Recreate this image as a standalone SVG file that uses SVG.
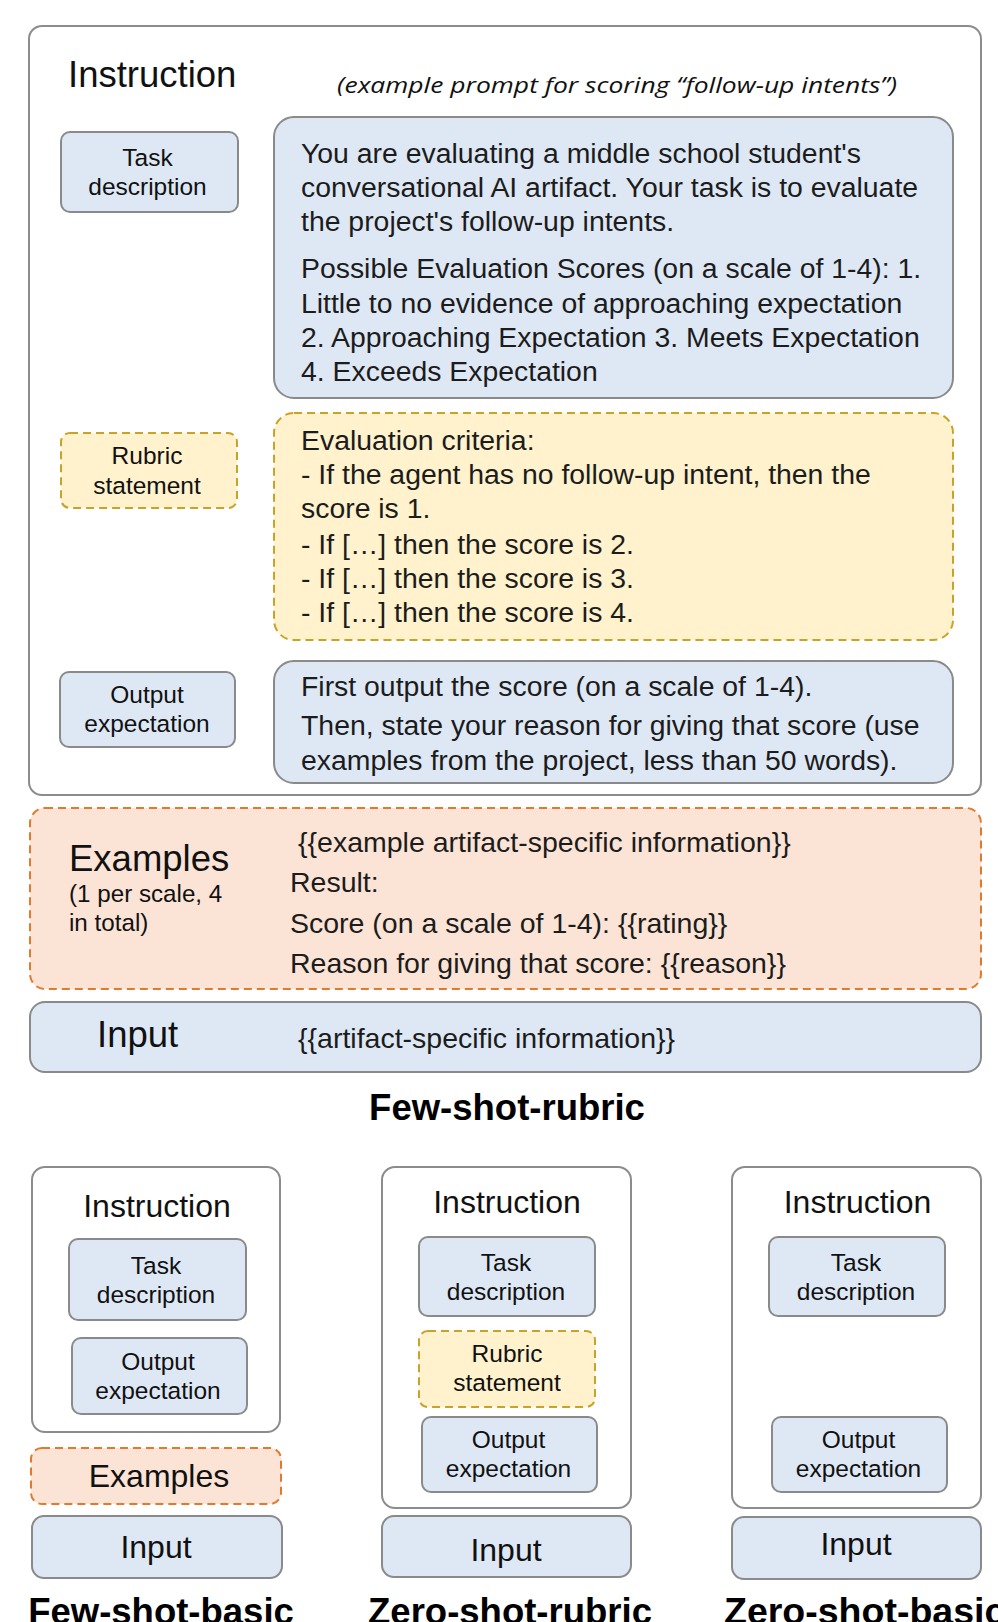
<svg xmlns="http://www.w3.org/2000/svg" width="998" height="1622" viewBox="0 0 998 1622">
<style>
.frame{fill:#ffffff;stroke:#8c8c8c;stroke-width:2}
.blue{fill:#dee8f5;stroke:#8a8a8a;stroke-width:2}
.yellow{fill:#fff2cc;stroke:#c9a227;stroke-width:2;stroke-dasharray:8 5}
.orange{fill:#fbe4d6;stroke:#e07b2e;stroke-width:2;stroke-dasharray:8 5}
text{font-family:"Liberation Sans",Arial,sans-serif;fill:#111}
.body{font-size:28.4px;fill:#1c1c1c}
.lbl{font-size:24.5px;text-anchor:middle}
.h1{font-size:36.5px}
.h2{font-size:32px;text-anchor:middle}
.cap{font-size:36.5px;font-weight:bold;text-anchor:middle;fill:#000}
.it{font-family:"Open Sans","Liberation Sans",sans-serif;font-style:italic;font-size:22px;fill:#111}
</style>
<rect width="998" height="1622" fill="#ffffff"/>

<!-- Few-shot-rubric -->
<g id="instruction-main">
  <rect class="frame" x="29" y="26" width="952" height="769" rx="13"/>
  <text class="h1" x="68" y="87">Instruction</text>
  <text class="it" x="337" y="93" textLength="560" lengthAdjust="spacingAndGlyphs">(example prompt for scoring “follow-up intents”)</text>
</g>
<g id="task-description-label">
  <rect class="blue" x="61" y="132" width="177" height="80" rx="9"/>
  <text class="lbl" x="147.5" y="166">Task</text>
  <text class="lbl" x="147.5" y="195">description</text>
</g>
<g id="task-description-text">
  <rect class="blue" x="274" y="117" width="679" height="281" rx="20"/>
  <text class="body" x="301" y="163">You are evaluating a middle school student's</text>
  <text class="body" x="301" y="197">conversational AI artifact. Your task is to evaluate</text>
  <text class="body" x="301" y="231">the project's follow-up intents.</text>
  <text class="body" x="301" y="278">Possible Evaluation Scores (on a scale of 1-4): 1.</text>
  <text class="body" x="301" y="313">Little to no evidence of approaching expectation</text>
  <text class="body" x="301" y="347">2. Approaching Expectation 3. Meets Expectation</text>
  <text class="body" x="301" y="381">4. Exceeds Expectation</text>
</g>
<g id="rubric-statement-label">
  <rect class="yellow" x="61" y="433" width="176" height="75" rx="9"/>
  <text class="lbl" x="147" y="464">Rubric</text>
  <text class="lbl" x="147" y="494">statement</text>
</g>
<g id="rubric-statement-text">
  <rect class="yellow" x="274" y="413" width="679" height="227" rx="20"/>
  <text class="body" x="301" y="450">Evaluation criteria:</text>
  <text class="body" x="301" y="484">- If the agent has no follow-up intent, then the</text>
  <text class="body" x="301" y="518">score is 1.</text>
  <text class="body" x="301" y="554">- If […] then the score is 2.</text>
  <text class="body" x="301" y="588">- If […] then the score is 3.</text>
  <text class="body" x="301" y="622">- If […] then the score is 4.</text>
</g>
<g id="output-expectation-label">
  <rect class="blue" x="60" y="672" width="175" height="75" rx="9"/>
  <text class="lbl" x="147" y="703">Output</text>
  <text class="lbl" x="147" y="732">expectation</text>
</g>
<g id="output-expectation-text">
  <rect class="blue" x="274" y="661" width="679" height="122" rx="20"/>
  <text class="body" x="301" y="696">First output the score (on a scale of 1-4).</text>
  <text class="body" x="301" y="735">Then, state your reason for giving that score (use</text>
  <text class="body" x="301" y="770">examples from the project, less than 50 words).</text>
</g>
<g id="examples-main">
  <rect class="orange" x="30" y="808" width="951" height="181" rx="15"/>
  <text class="h1" x="69" y="871">Examples</text>
  <text style="font-size:24.2px" x="69" y="902">(1 per scale, 4</text>
  <text style="font-size:24.2px" x="69" y="931">in total)</text>
  <text class="body" style="font-size:28.5px" x="298" y="852">{{example artifact-specific information}}</text>
  <text class="body" style="font-size:28.5px" x="290" y="892">Result:</text>
  <text class="body" style="font-size:28.5px" x="290" y="933">Score (on a scale of 1-4): {{rating}}</text>
  <text class="body" style="font-size:28.5px" x="290" y="973">Reason for giving that score: {{reason}}</text>
</g>
<g id="input-main">
  <rect class="blue" x="30" y="1002" width="951" height="70" rx="15"/>
  <text class="h1" x="97" y="1047">Input</text>
  <text class="body" style="font-size:28.5px" x="298" y="1048">{{artifact-specific information}}</text>
</g>
<text class="cap" x="507" y="1120">Few-shot-rubric</text>

<!-- Few-shot-basic -->
<g id="fsb-instruction">
  <rect class="frame" x="32" y="1167" width="248" height="265" rx="13"/>
  <text class="h2" x="157" y="1217">Instruction</text>
</g>
<g id="fsb-task">
  <rect class="blue" x="69" y="1239" width="177" height="81" rx="9"/>
  <text class="lbl" x="156" y="1274">Task</text>
  <text class="lbl" x="156" y="1303">description</text>
</g>
<g id="fsb-output">
  <rect class="blue" x="72" y="1338" width="175" height="76" rx="9"/>
  <text class="lbl" x="158" y="1370">Output</text>
  <text class="lbl" x="158" y="1399">expectation</text>
</g>
<g id="fsb-examples">
  <rect class="orange" x="31" y="1448" width="250" height="56" rx="11"/>
  <text class="h2" x="159" y="1487">Examples</text>
</g>
<g id="fsb-input">
  <rect class="blue" x="32" y="1516" width="250" height="62" rx="12"/>
  <text class="h2" x="156" y="1558">Input</text>
</g>
<text class="cap" x="161" y="1624">Few-shot-basic</text>

<!-- Zero-shot-rubric -->
<g id="zsr-instruction">
  <rect class="frame" x="382" y="1167" width="249" height="341" rx="13"/>
  <text class="h2" x="507" y="1213">Instruction</text>
</g>
<g id="zsr-task">
  <rect class="blue" x="419" y="1237" width="176" height="79" rx="9"/>
  <text class="lbl" x="506" y="1271">Task</text>
  <text class="lbl" x="506" y="1300">description</text>
</g>
<g id="zsr-rubric">
  <rect class="yellow" x="419" y="1331" width="176" height="76" rx="9"/>
  <text class="lbl" x="507" y="1362">Rubric</text>
  <text class="lbl" x="507" y="1391">statement</text>
</g>
<g id="zsr-output">
  <rect class="blue" x="422" y="1417" width="175" height="75" rx="9"/>
  <text class="lbl" x="508.5" y="1448">Output</text>
  <text class="lbl" x="508.5" y="1477">expectation</text>
</g>
<g id="zsr-input">
  <rect class="blue" x="382" y="1516" width="249" height="61" rx="12"/>
  <text class="h2" x="506" y="1561">Input</text>
</g>
<text class="cap" x="510" y="1624">Zero-shot-rubric</text>

<!-- Zero-shot-basic -->
<g id="zsb-instruction">
  <rect class="frame" x="732" y="1167" width="249" height="341" rx="13"/>
  <text class="h2" x="857.5" y="1213">Instruction</text>
</g>
<g id="zsb-task">
  <rect class="blue" x="769" y="1237" width="176" height="79" rx="9"/>
  <text class="lbl" x="856" y="1271">Task</text>
  <text class="lbl" x="856" y="1300">description</text>
</g>
<g id="zsb-output">
  <rect class="blue" x="772" y="1417" width="175" height="75" rx="9"/>
  <text class="lbl" x="858.5" y="1448">Output</text>
  <text class="lbl" x="858.5" y="1477">expectation</text>
</g>
<g id="zsb-input">
  <rect class="blue" x="732" y="1517" width="249" height="62" rx="12"/>
  <text class="h2" x="856" y="1555">Input</text>
</g>
<text class="cap" style="text-anchor:start;font-size:37.5px" x="724" y="1624">Zero-shot-basic</text>
</svg>
